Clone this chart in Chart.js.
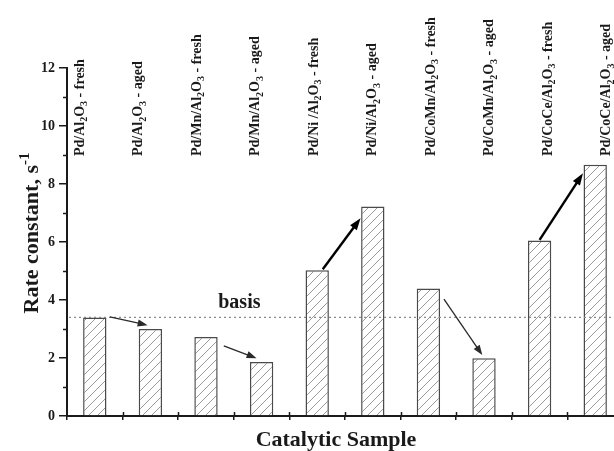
<!DOCTYPE html>
<html lang="en">
<head>
  <meta charset="UTF-8">
  <title>Rate constant by catalytic sample</title>
  <script src="https://cdn.jsdelivr.net/npm/chart.js"></script>
  <style>
    html, body { margin: 0; padding: 0; background: #fff; overflow: hidden; }
    #wrap { width: 614px; height: 451px; overflow: hidden; }
    canvas { display: block; }
  </style>
</head>
<body>
  <div id="wrap"><canvas id="rateChart" width="624" height="451"></canvas></div>
  <script>
    // digits in the names are drawn as subscripts
    const samples = [
      'Pd/Al2O3 - fresh', 'Pd/Al2O3 - aged',
      'Pd/Mn/Al2O3 - fresh', 'Pd/Mn/Al2O3 - aged',
      'Pd/Ni /Al2O3 - fresh', 'Pd/Ni/Al2O3 - aged',
      'Pd/CoMn/Al2O3 - fresh', 'Pd/CoMn/Al2O3 - aged',
      'Pd/CoCe/Al2O3 - fresh', 'Pd/CoCe/Al2O3 - aged'
    ];
    const rateConstants = [3.4, 3.0, 2.72, 1.86, 5.03, 7.22, 4.4, 1.99, 6.05, 8.66];
    const basisValue = 3.4;
    // arrows in data units: [category index, rate constant]
    const arrowFrom = [[0.27, 3.42], [2.32, 2.42], [4.10, 5.06], [6.28, 4.03], [8.0, 6.07]];
    const arrowTo   = [[0.95, 3.13], [2.91, 1.99], [4.78, 6.82], [6.97, 2.10], [8.78, 8.37]];
    const arrowBold = [false, false, true, false, true];

    const serif = "'Liberation Serif', 'Times New Roman', serif";
    const ink = '#1a1a1a';

    function hatch() {
      const s = 9;
      const c = document.createElement('canvas');
      c.width = s; c.height = s;
      const g = c.getContext('2d');
      g.fillStyle = '#fff';
      g.fillRect(0, 0, s, s);
      g.strokeStyle = '#9a9a9a';
      g.lineWidth = 1;
      g.beginPath();
      g.moveTo(0, s); g.lineTo(s, 0);
      g.moveTo(-s, s); g.lineTo(s, -s);
      g.moveTo(0, 2 * s); g.lineTo(2 * s, 0);
      g.stroke();
      return g.createPattern(c, 'repeat');
    }

    // draws text along +x from the origin, digits as subscripts
    function drawRich(ctx, text, size, supParts) {
      let x = 0;
      const parts = supParts || text.match(/\d+|\D+/g).map(p => [p, /\d/.test(p) ? 'sub' : '']);
      for (const [p, kind] of parts) {
        const small = kind !== '';
        ctx.font = `bold ${small ? Math.round(size * 0.7) : size}px ${serif}`;
        const dy = kind === 'sub' ? size * 0.26 : kind === 'sup' ? -size * 0.42 : 0;
        ctx.fillText(p, x, dy);
        x += ctx.measureText(p).width;
      }
      return x;
    }

    function richWidth(ctx, parts, size) {
      let w = 0;
      for (const [p, kind] of parts) {
        ctx.font = `bold ${kind ? Math.round(size * 0.7) : size}px ${serif}`;
        w += ctx.measureText(p).width;
      }
      return w;
    }

    function arrow(ctx, x1, y1, x2, y2, bold) {
      const a = Math.atan2(y2 - y1, x2 - x1);
      const hl = bold ? 12 : 10, hw = bold ? 4.2 : 3.6;
      const cos = Math.cos(a), sin = Math.sin(a);
      ctx.strokeStyle = ctx.fillStyle = bold ? '#000' : '#2a2a2a';
      ctx.lineWidth = bold ? 2.4 : 1.3;
      ctx.beginPath();
      ctx.moveTo(x1, y1);
      ctx.lineTo(x2 - hl * 0.7 * cos, y2 - hl * 0.7 * sin);
      ctx.stroke();
      ctx.beginPath();
      ctx.moveTo(x2, y2);
      ctx.lineTo(x2 - hl * cos + hw * sin, y2 - hl * sin - hw * cos);
      ctx.lineTo(x2 - hl * cos - hw * sin, y2 - hl * sin + hw * cos);
      ctx.closePath();
      ctx.fill();
    }

    const annotate = {
      id: 'annotate',
      afterDatasetsDraw(chart) {
        const { ctx, chartArea, scales: { y } } = chart;
        ctx.save();
        // basis line
        const by = y.getPixelForValue(basisValue);
        ctx.strokeStyle = '#8a8a8a';
        ctx.lineWidth = 1.4;
        ctx.setLineDash([2, 3]);
        ctx.beginPath();
        ctx.moveTo(chartArea.left + 2, by);
        ctx.lineTo(chartArea.right, by);
        ctx.stroke();
        ctx.restore();
      },
      afterDraw(chart) {
        const { ctx, chartArea, scales: { x, y } } = chart;
        const step = x.getPixelForValue(1) - x.getPixelForValue(0);
        ctx.save();
        ctx.strokeStyle = ink;
        ctx.lineWidth = 1.5;
        // minor y ticks
        ctx.beginPath();
        for (let v = 1; v < 12; v += 2) {
          const py = Math.round(y.getPixelForValue(v)) + 0.5;
          ctx.moveTo(chartArea.left - 4, py);
          ctx.lineTo(chartArea.left, py);
        }
        // x ticks poke up through the axis
        for (let i = 1; i < samples.length; i++) {
          const px = Math.round(x.getPixelForValue(i) - step / 2) + 0.5;
          ctx.moveTo(px, chartArea.bottom);
          ctx.lineTo(px, chartArea.bottom - 4);
        }
        ctx.stroke();

        // arrows
        arrowFrom.forEach((f, i) => {
          const t = arrowTo[i];
          arrow(ctx, x.getPixelForValue(f[0]), y.getPixelForValue(f[1]),
            x.getPixelForValue(t[0]), y.getPixelForValue(t[1]), arrowBold[i]);
        });

        ctx.fillStyle = ink;
        // basis label
        ctx.font = `bold 20px ${serif}`;
        ctx.textAlign = 'center';
        ctx.textBaseline = 'alphabetic';
        ctx.fillText('basis', x.getPixelForValue(2.6), y.getPixelForValue(basisValue) - 9);

        // sample names, rotated, at the top
        ctx.textAlign = 'left';
        samples.forEach((s, i) => {
          const cx = x.getPixelForValue(0) - 15 + i * step * 1.052;
          ctx.save();
          ctx.translate(cx + 4, 156);
          ctx.rotate(-Math.PI / 2);
          drawRich(ctx, s, 14);
          ctx.restore();
        });

        // y title
        const yParts = [['Rate constant, s', ''], ['-1', 'sup']];
        const yw = richWidth(ctx, yParts, 22);
        ctx.save();
        ctx.translate(38, 233 + yw / 2);
        ctx.rotate(-Math.PI / 2);
        drawRich(ctx, '', 22, yParts);
        ctx.restore();

        // x title
        ctx.font = `bold 22px ${serif}`;
        ctx.textAlign = 'center';
        ctx.fillText('Catalytic Sample', 336, 446);
        ctx.restore();
      }
    };

    new Chart(document.getElementById('rateChart'), {
      type: 'bar',
      data: {
        labels: samples,
        datasets: [{
          data: rateConstants,
          backgroundColor: hatch(),
          borderColor: '#4a4a4a',
          borderWidth: 1.5,
          barPercentage: 0.42,
          categoryPercentage: 1
        }]
      },
      options: {
        responsive: false,
        animation: false,
        events: [],
        layout: { padding: { top: 68, right: 1, left: 0, bottom: 0 } },
        plugins: { legend: { display: false }, tooltip: { enabled: false } },
        scales: {
          x: {
            ticks: { display: false },
            grid: { drawOnChartArea: false, tickLength: 4, color: ink, lineWidth: 1.5 },
            border: { color: ink, width: 2 },
            afterFit: s => { s.height = 35; }
          },
          y: {
            min: 0,
            max: 12,
            ticks: { stepSize: 2, color: ink, padding: 4, font: { family: serif, size: 14, weight: 'bold' } },
            grid: { drawOnChartArea: false, tickLength: 8, color: ink, lineWidth: 1.5 },
            border: { color: ink, width: 2 },
            afterFit: s => { s.width = 67; }
          }
        }
      },
      plugins: [annotate]
    });
  </script>
</body>
</html>
